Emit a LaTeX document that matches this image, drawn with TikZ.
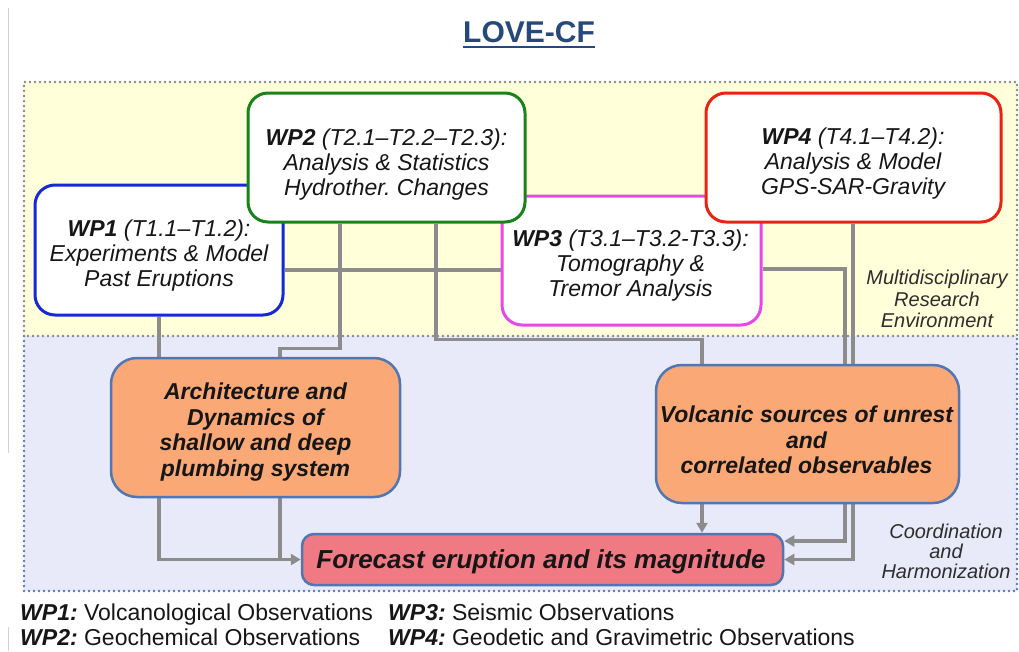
\documentclass[tikz,border=0pt]{standalone}
\usepackage{fontspec}
\setmainfont{Liberation Sans}
\usetikzlibrary{arrows.meta,calc}
\frenchspacing

\definecolor{titleblue}{RGB}{38,72,122}
\definecolor{upperfill}{RGB}{255,255,218}
\definecolor{lowerfill}{RGB}{232,234,250}
\definecolor{dotgray}{RGB}{135,135,135}
\definecolor{dotblue}{RGB}{85,120,190}
\definecolor{wpone}{RGB}{22,40,215}
\definecolor{wptwo}{RGB}{25,130,25}
\definecolor{wpthree}{RGB}{232,70,232}
\definecolor{wpfour}{RGB}{232,35,20}
\definecolor{orfill}{RGB}{250,168,118}
\definecolor{fcfill}{RGB}{240,122,132}
\definecolor{steel}{RGB}{80,118,180}
\definecolor{wirecol}{RGB}{140,140,140}
\definecolor{inkcol}{RGB}{22,22,22}
\definecolor{sidecol}{RGB}{45,45,45}

\pgfdeclarelayer{back}
\pgfdeclarelayer{mid}
\pgfsetlayers{back,mid,main}

\begin{document}
\begin{tikzpicture}[x=1pt,y=-1pt,
  dotline/.style={line width=2.6pt, line cap=round, dash pattern=on 0pt off 5pt},
  wpbox/.style={draw, fill=white, rounded corners=20pt, line width=3pt, inner sep=0pt},
  orbox/.style={draw=steel, fill=orfill, rounded corners=26pt, line width=2.5pt, inner sep=0pt},
  fcbox/.style={draw=steel, fill=fcfill, rounded corners=12pt, line width=2.5pt, inner sep=0pt},
  wptext/.style={align=center, inner sep=0pt, text=inkcol,
    font=\fontsize{23}{25}\selectfont\itshape},
  ortext/.style={align=center, inner sep=0pt, text=inkcol,
    font=\fontsize{23}{25.7}\selectfont\bfseries\itshape},
  sidelab/.style={align=center, inner sep=0pt, text=sidecol,
    font=\fontsize{20}{21.5}\selectfont\itshape},
  legend/.style={anchor=base west, inner sep=0pt, text=inkcol,
    font=\fontsize{23}{25}\selectfont},
  wire/.style={draw=wirecol, line width=3.2pt},
  tip/.style={-{Triangle[length=10pt,width=11pt]}}]

\useasboundingbox (0,0) rectangle (1019,651);

% page, the two environments and the page edge rule
\begin{pgfonlayer}{back}
  \fill[white] (0,0) rectangle (1019,651);
  \draw[gray!35, line width=0.8pt] (8,8) -- (8,453);
  \draw[gray!35, line width=0.8pt] (8,627) -- (8,651);
  \fill[upperfill] (24,82) rectangle (1017,336);
  \fill[lowerfill] (24,336) rectangle (1017,591);
  \draw[dotline, dotblue] (24,336) -- (24,591) -- (1017,591) -- (1017,336);
  \draw[dotline, dotgray] (24,336) -- (24,82) -- (1017,82) -- (1017,336) -- cycle;
\end{pgfonlayer}

% title
\node[anchor=base, inner sep=0pt, text=titleblue,
      font=\fontsize{30}{32}\selectfont\bfseries] (title) at (529,42) {LOVE-CF};
\draw[titleblue, line width=2.2pt]
  ([yshift=-5pt]title.base west) -- ([yshift=-5pt]title.base east);

% work packages
\node[wpbox, draw=wpone, minimum width=248pt, minimum height=130pt] (wp1) at (159,250) {};
\node[wpbox, draw=wpthree, minimum width=259pt, minimum height=129pt] (wp3) at (631.5,260.5) {};
\node[wpbox, draw=wptwo, minimum width=277pt, minimum height=129pt] (wp2) at (386.5,157.5) {};
\node[wpbox, draw=wpfour, minimum width=295pt, minimum height=129pt] (wp4) at (853.5,157.5) {};

\node[wptext] (wp1t) at (159,256) {\textbf{WP1} (T1.1–T1.2):\\Experiments \& Model\\Past Eruptions};
\node[wptext] (wp2t) at (386.5,165) {\textbf{WP2} (T2.1–T2.2–T2.3):\\Analysis \& Statistics\\Hydrother. Changes};
\node[wptext] (wp3t) at (630.5,266) {\textbf{WP3} (T3.1–T3.2-T3.3):\\Tomography \&\\Tremor Analysis};
\node[wptext] (wp4t) at (853,164) {\textbf{WP4} (T4.1–T4.2):\\Analysis \& Model\\GPS-SAR-Gravity};

% results
\node[orbox, minimum width=289pt, minimum height=139pt] (arch) at (255.5,427.5) {};
\node[orbox, minimum width=303pt, minimum height=138pt] (volc) at (807.5,434) {};
\node[fcbox, minimum width=481pt, minimum height=51pt] (fc) at (542.5,559.5) {};

\node[ortext] (archt) at (255.5,432) {Architecture and\\Dynamics of\\shallow and deep\\plumbing system};
\node[ortext] (volct) at (806.5,440) {Volcanic sources of unrest\\and\\correlated observables};
\node[inner sep=0pt, text=inkcol, font=\fontsize{26}{28}\selectfont\bfseries\itshape]
  (fct) at (541,562) {Forecast eruption and its magnitude};

% side labels
\node[sidelab] (mre) at (937,299) {Multidisciplinary\\Research\\Environment};
\node[sidelab, font=\fontsize{20}{20}\selectfont\itshape] (cah) at (946,551) {Coordination\\and\\Harmonization};

% legend
\node[legend] (lg1) at (20,620) {\textbf{\itshape WP1:} Volcanological Observations};
\node[legend] (lg2) at (20,645) {\textbf{\itshape WP2:} Geochemical Observations};
\node[legend] (lg3) at (388,620) {\textbf{\itshape WP3:} Seismic Observations};
\node[legend] (lg4) at (388,645) {\textbf{\itshape WP4:} Geodetic and Gravimetric Observations};

% connectors
\coordinate (w2a) at ($(wp2.south)+(-46.5,0)$);
\coordinate (aa)  at ($(arch.north)+(24.5,0)$);
\coordinate (w2b) at ($(wp2.south)+(49.5,0)$);
\coordinate (vv)  at ($(volc.north)+(-105.5,0)$);

\begin{pgfonlayer}{mid}
  % WP1 to architecture, then on to the forecast
  \draw[wire] (wp1.south) -- (wp1.south |- arch.north);
  \draw[wire, tip] (wp1.south |- arch.south) |- (fc.west);
  % WP2 to architecture
  \draw[wire] (w2a) -- ++(0,125) -| (aa);
  \draw[wire] (aa |- arch.south) -- (aa |- fc.west);
  % WP2 to volcanic sources, then on to the forecast
  \draw[wire] (w2b) -- ++(0,116) -| (vv);
  \draw[wire, tip] (vv |- volc.south) -- (vv |- fc.north);
  % WP1 -- WP3
  \draw[wire] ($(wp1.east)+(0,20)$) -- ($(wp3.west)+(0,9.5)$);
  % WP3 to the forecast
  \draw[wire, tip] ($(wp3.east)+(0,8.5)$) -- ++(82.5,0) |- ($(fc.east)+(0,-18.5)$);
  % WP4 to the forecast
  \draw[wire, tip] ($(wp4.south)+(-0.5,0)$) |- (fc.east);
\end{pgfonlayer}

\end{tikzpicture}
\end{document}
